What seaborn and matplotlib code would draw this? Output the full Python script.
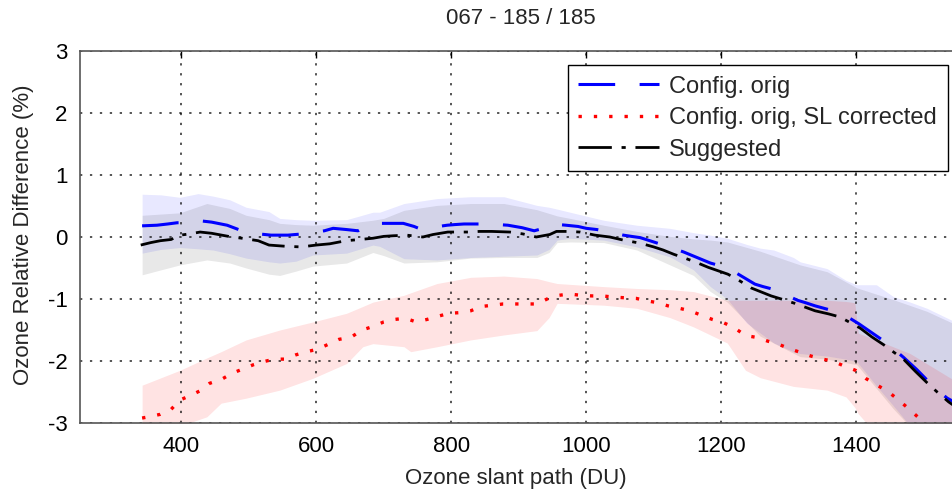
import numpy as np
import matplotlib
matplotlib.use("Agg")
import matplotlib.pyplot as plt
import seaborn as sns

# ---- data ----
title = "067 - 185 / 185"
x_label = "Ozone slant path (DU)"
y_label = "Ozone Relative Difference (%)"
labels = ["Config. orig", "Config. orig, SL corrected", "Suggested"]

orig_x = [342, 364, 380, 394, 407, 420, 429, 445, 468, 485, 496, 515, 533, 558, 580, 598,
          612, 625, 645, 662, 675, 690, 710, 729, 745, 754, 775, 794, 805, 819, 840, 859,
          870, 884, 905, 923, 940, 950, 970, 988, 1000, 1016, 1035, 1055, 1067, 1080, 1100,
          1120, 1144, 1164, 1184, 1197, 1210, 1230, 1250, 1262, 1276, 1295, 1313, 1325, 1339,
          1359, 1379, 1392, 1404, 1424, 1444, 1457, 1470, 1490, 1508, 1520, 1535, 1545]
orig_y = [0.18, 0.19, 0.21, 0.23, 0.23, 0.24, 0.26, 0.24, 0.19, 0.12, 0.07, 0.05, 0.03, 0.03,
          0.05, 0.08, 0.10, 0.14, 0.12, 0.10, 0.18, 0.22, 0.22, 0.22, 0.17, 0.13, 0.16, 0.19,
          0.20, 0.21, 0.21, 0.21, 0.20, 0.19, 0.15, 0.10, 0.15, 0.21, 0.19, 0.17, 0.14, 0.12,
          0.08, 0.03, 0.01, -0.01, -0.08, -0.15, -0.24, -0.33, -0.42, -0.46, -0.50, -0.63,
          -0.76, -0.80, -0.84, -0.93, -1.02, -1.06, -1.11, -1.17, -1.24, -1.32, -1.40, -1.55,
          -1.70, -1.82, -1.94, -2.14, -2.34, -2.47, -2.60, -2.66]

sugg_x = [340, 355, 369, 385, 398, 413, 428, 445, 460, 475, 490, 514, 530, 555, 578, 600,
          620, 644, 665, 684, 700, 714, 734, 758, 773, 795, 825, 842, 860, 887, 906, 926,
          946, 956, 971, 991, 1013, 1035, 1055, 1080, 1100, 1114, 1130, 1146, 1161, 1181,
          1210, 1225, 1244, 1274, 1292, 1309, 1339, 1359, 1376, 1406, 1423, 1441, 1471, 1488,
          1505, 1520, 1537, 1545]
sugg_y = [-0.13, -0.09, -0.06, -0.04, 0.03, 0.05, 0.08, 0.06, 0.03, 0.00, -0.02, -0.06,
          -0.13, -0.15, -0.16, -0.13, -0.11, -0.06, -0.04, -0.02, 0.01, 0.02, 0.03, 0.00,
          0.04, 0.08, 0.08, 0.09, 0.09, 0.08, 0.05, 0.00, 0.04, 0.09, 0.09, 0.08, 0.03, 0.00,
          -0.05, -0.10, -0.16, -0.21, -0.28, -0.34, -0.40, -0.49, -0.60, -0.69, -0.82, -0.95,
          -1.01, -1.07, -1.19, -1.24, -1.29, -1.47, -1.61, -1.74, -1.98, -2.17, -2.35, -2.50,
          -2.66, -2.72]

slc_x = [342, 352, 369, 385, 398, 415, 428, 442, 459, 475, 491, 507, 522, 538, 554, 570,
         586, 602, 618, 634, 651, 668, 685, 700, 716, 732, 748, 764, 780, 797, 813, 829,
         845, 862, 877, 895, 911, 927, 944, 960, 975, 992, 1008, 1024, 1041, 1057, 1074,
         1090, 1106, 1121, 1138, 1154, 1170, 1187, 1203, 1219, 1236, 1253, 1269, 1285, 1301,
         1317, 1333, 1350, 1365, 1382, 1399, 1414, 1431, 1447, 1464, 1480, 1496, 1512]
slc_y = [-2.92, -2.90, -2.86, -2.78, -2.63, -2.55, -2.48, -2.36, -2.30, -2.20, -2.13, -2.06,
         -2.01, -1.97, -1.97, -1.90, -1.85, -1.81, -1.73, -1.65, -1.62, -1.50, -1.44, -1.37,
         -1.33, -1.31, -1.37, -1.33, -1.28, -1.23, -1.22, -1.19, -1.12, -1.10, -1.08, -1.08,
         -1.08, -1.08, -0.99, -0.94, -0.92, -0.94, -0.95, -0.95, -0.97, -0.98, -0.99, -1.03,
         -1.06, -1.11, -1.15, -1.19, -1.26, -1.33, -1.38, -1.46, -1.59, -1.62, -1.68, -1.73,
         -1.80, -1.86, -1.92, -1.97, -2.00, -2.08, -2.15, -2.28, -2.39, -2.49, -2.64, -2.79,
         -2.95, -3.10]

# spread bands (lower / upper edges)
orig_band_x = [342, 370, 398, 425, 447, 472, 496, 530, 546, 570, 595, 645, 684, 694, 730,
               779, 829, 878, 927, 945, 957, 976, 1026, 1075, 1124, 1159, 1184, 1209, 1238,
               1258, 1278, 1307, 1317, 1357, 1385, 1401, 1430, 1455, 1480, 1505, 1545]
orig_lo = [-0.26, -0.20, -0.17, -0.19, -0.21, -0.27, -0.34, -0.40, -0.42, -0.39, -0.29,
           -0.26, -0.13, -0.15, -0.35, -0.37, -0.33, -0.31, -0.29, -0.20, -0.05, -0.02,
           -0.05, -0.16, -0.32, -0.53, -0.80, -1.00, -1.39, -1.55, -1.71, -1.85, -1.88,
           -1.92, -1.97, -2.01, -2.40, -2.72, -3.05, -3.30, -3.60]
orig_hi = [0.69, 0.68, 0.64, 0.70, 0.66, 0.60, 0.48, 0.41, 0.30, 0.28, 0.27, 0.28, 0.40,
           0.40, 0.54, 0.62, 0.65, 0.65, 0.51, 0.48, 0.45, 0.40, 0.27, 0.19, 0.14, 0.07,
           0.03, -0.02, -0.12, -0.18, -0.21, -0.33, -0.40, -0.51, -0.70, -0.77, -0.77,
           -0.96, -1.05, -1.15, -1.36]

sugg_band_x = [342, 398, 438, 472, 496, 530, 546, 570, 595, 645, 684, 700, 730, 779, 829,
               878, 927, 945, 957, 976, 1026, 1075, 1124, 1159, 1184, 1209, 1258, 1317, 1357,
               1401, 1455, 1505, 1545]
sugg_lo = [-0.61, -0.45, -0.37, -0.42, -0.50, -0.60, -0.62, -0.55, -0.47, -0.42, -0.25,
           -0.30, -0.42, -0.40, -0.34, -0.33, -0.33, -0.25, -0.09, -0.08, -0.09, -0.21,
           -0.45, -0.62, -0.88, -1.05, -1.60, -1.93, -1.97, -2.06, -2.77, -3.35, -3.65]
sugg_hi = [0.35, 0.39, 0.54, 0.46, 0.35, 0.28, 0.22, 0.20, 0.19, 0.22, 0.27, 0.30, 0.43,
           0.51, 0.54, 0.54, 0.44, 0.38, 0.34, 0.30, 0.19, 0.09, 0.01, -0.03, -0.05, -0.08,
           -0.23, -0.45, -0.56, -0.82, -1.01, -1.20, -1.40]

slc_band_x = [342, 398, 438, 459, 496, 546, 595, 645, 669, 684, 730, 740, 779, 829, 878, 927,
              945, 957, 1026, 1075, 1124, 1159, 1209, 1236, 1258, 1307, 1357, 1385, 1398,
              1403, 1415, 1450, 1480, 1545]
slc_lo = [-3.30, -3.05, -2.90, -2.68, -2.60, -2.47, -2.28, -2.04, -1.77, -1.72, -1.77, -1.85,
          -1.77, -1.66, -1.58, -1.51, -1.30, -1.07, -1.10, -1.15, -1.30, -1.45, -1.71, -2.15,
          -2.27, -2.41, -2.47, -2.58, -2.75, -2.85, -3.00, -3.30, -3.50, -3.90]
slc_hi = [-2.39, -2.15, -1.95, -1.85, -1.66, -1.50, -1.37, -1.23, -1.12, -1.05, -0.94, -0.90,
          -0.75, -0.65, -0.63, -0.67, -0.72, -0.75, -0.80, -0.83, -0.85, -0.88, -1.02, -1.02,
          -1.02, -1.02, -1.02, -1.04, -1.06, -1.55, -1.60, -1.75, -1.88, -2.31]

x_ticks = [400, 600, 800, 1000, 1200, 1400]
y_ticks = [-3, -2, -1, 0, 1, 2, 3]

# ---- style ----
sns.set_style("white")
plt.rcParams["font.family"] = ["Liberation Sans", "DejaVu Sans"]
fs = 16

fig = plt.figure(figsize=(9.53, 4.93), dpi=100)
ax = fig.add_axes([80 / 953, 1 - 423 / 493, 872 / 953, 372 / 493])

# bands
ax.fill_between(orig_band_x, orig_lo, orig_hi, color="#0000ff", alpha=0.09, lw=0, zorder=1)
ax.fill_between(sugg_band_x, sugg_lo, sugg_hi, color="#000000", alpha=0.09, lw=0, zorder=1)
ax.fill_between(slc_band_x, slc_lo, slc_hi, color="#ff0000", alpha=0.11, lw=0, zorder=1)

# lines
sns.lineplot(x=orig_x, y=orig_y, ax=ax, color="#0000ff", lw=2.2, estimator=None, sort=False,
             linestyle=(0, (12, 8)), label=labels[0])
sns.lineplot(x=slc_x, y=slc_y, ax=ax, color="#ff0000", lw=2.4, estimator=None, sort=False,
             linestyle=(0, (1, 3.6)), label=labels[1])
sns.lineplot(x=sugg_x, y=sugg_y, ax=ax, color="black", lw=2.0, estimator=None, sort=False,
             linestyle=(0, (12, 3.5, 1.5, 3.5)), label=labels[2])

ax.set_xlim(250, 1542)
ax.set_ylim(-3, 3)
ax.set_xticks(x_ticks)
ax.set_yticks(y_ticks)
ax.set_xticklabels([str(v) for v in x_ticks], fontsize=fs)
ax.set_yticklabels([str(v) for v in y_ticks], fontsize=fs)
ax.tick_params(direction="in", length=5, width=1, top=True, right=False, colors="black",
               pad=9)

ax.set_axisbelow("line")
ax.grid(True, color="black", lw=1.1, linestyle=(0, (1.5, 5)), alpha=0.85)

for side in ["top", "bottom", "left"]:
    ax.spines[side].set_color("#555555")
    ax.spines[side].set_linewidth(1.2)
ax.spines["right"].set_visible(False)

ax.set_xlabel(x_label, fontsize=fs)
ax.set_ylabel(y_label, fontsize=fs)
ax.xaxis.set_label_coords(0.5, -0.122)
ax.yaxis.set_label_coords(-0.053, 0.505)
fig.text(521 / 953, 1 - 18 / 493, title, ha="center", va="center", fontsize=fs)

leg = ax.legend(loc="upper right", bbox_to_anchor=(0.995, 0.962), fontsize=17,
                frameon=True, fancybox=False, framealpha=1, edgecolor="black",
                handlelength=3.4, handletextpad=0.45, labelspacing=0.4, borderpad=0.45,
                borderaxespad=0)
leg.get_frame().set_linewidth(1.0)

fig.savefig("out.png", dpi=100)
